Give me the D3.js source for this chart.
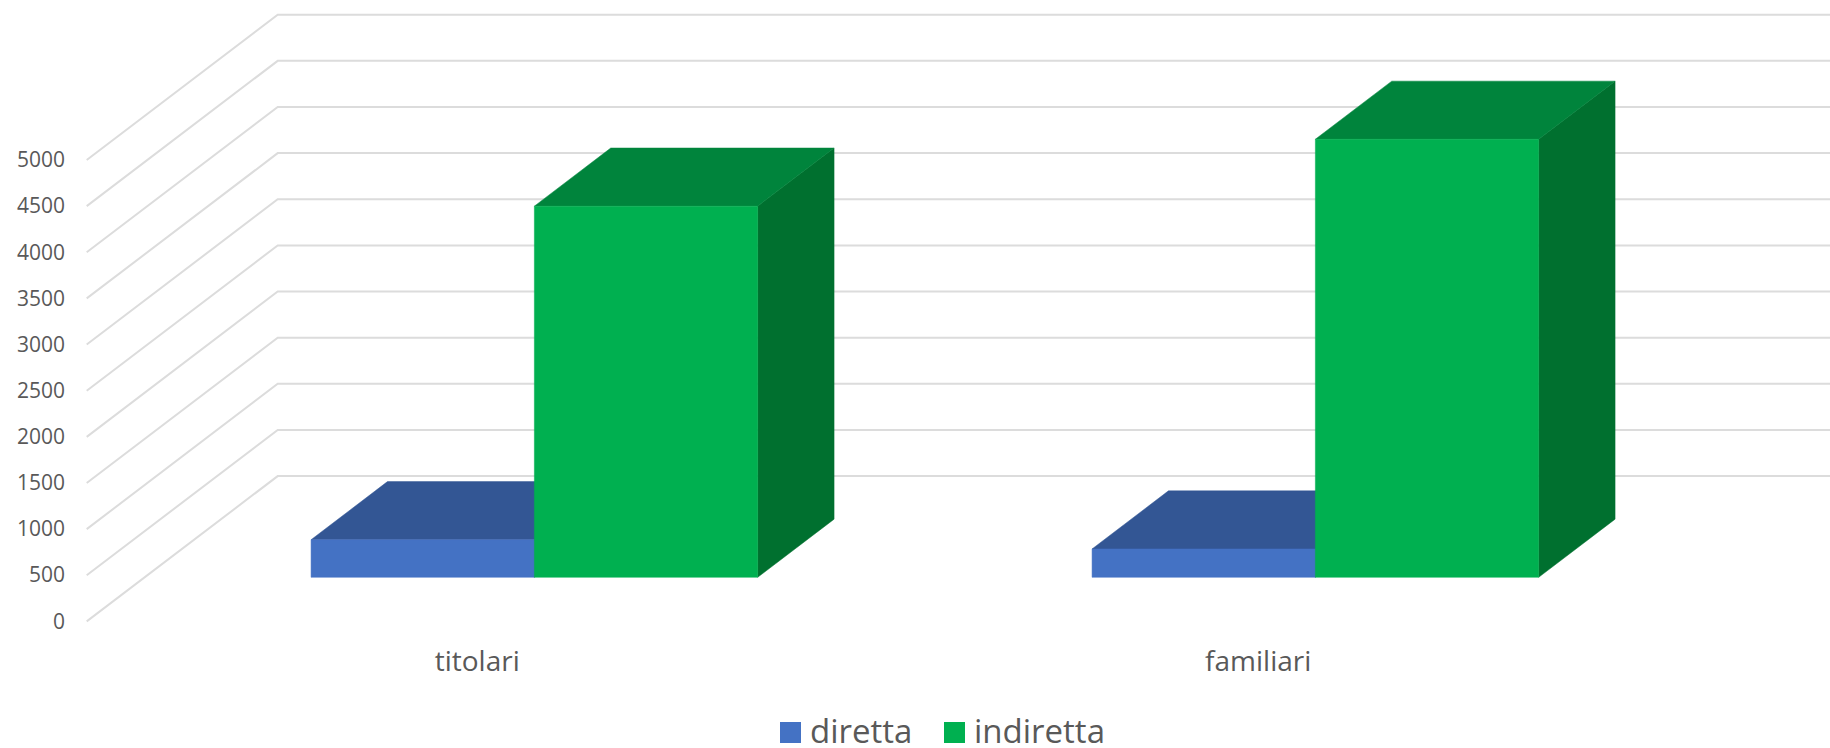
<!DOCTYPE html>
<html>
<head>
<meta charset="utf-8">
<script src="https://cdn.jsdelivr.net/npm/d3@7"></script>
<style>
html,body{margin:0;padding:0;background:#fff;overflow:hidden}
svg{display:block}
text{font-family:"Open Sans",sans-serif;fill:#595959}
</style>
</head>
<body>
<svg id="chart" width="1830" height="748"></svg>
<script>
const categories = ["titolari", "familiari"];
const seriesNames = ["diretta", "indiretta"];
const diretta = [407, 307];
const indiretta = [4022, 4747];
const yTicks = [0, 500, 1000, 1500, 2000, 2500, 3000, 3500, 4000, 4500, 5000];
const faceColors = {
  diretta: {front: "#4472C4", top: "#335694", side: "#2A4A80"},
  indiretta: {front: "#00B050", top: "#00843C", side: "#00702F"}
};

const W = 1830, H = 748;
const svg = d3.select("#chart");

// Front plane of the floor and the oblique depth vector of the 3D box
const y = d3.scaleLinear().domain([0, 5000]).range([621.4, 160]);
const x = d3.scaleBand().domain(categories).range([86.7, 1648.7]);
const depth = {dx: 191, dy: -145.3};
const barDepth = [0.3035, 0.7035];
const sub = d3.scaleBand().domain(seriesNames).range([-224.1, 222.5]);
const p = (px, py, z) => [px + depth.dx * z, py + depth.dy * z];
const line = d3.line();

// Gridlines: wall-side segment, then the back wall
svg.append("g").selectAll("path").data(yTicks).join("path")
  .attr("fill", "none").attr("stroke", "#dcdcdc").attr("stroke-width", 2)
  .attr("d", t => line([[x.range()[0], y(t)], p(x.range()[0], y(t), 1), [W, y(t) + depth.dy]]));

// Value axis labels
const yAxis = svg.append("g").attr("transform", "translate(65,0)")
  .call(d3.axisLeft(y).tickValues(yTicks).tickFormat(d3.format("d")).tickSize(0).tickPadding(0));
yAxis.select(".domain").remove();
yAxis.selectAll("text").style("font-family", '"Open Sans",sans-serif').style("font-size", "21px").attr("fill", "#595959");

// Category labels
const xAxis = svg.append("g").attr("transform", "translate(0,651)")
  .call(d3.axisBottom(x).tickSize(0).tickPadding(0));
xAxis.select(".domain").remove();
xAxis.selectAll("text").style("font-family", '"Open Sans",sans-serif').style("font-size", "28px").attr("fill", "#595959");

// Bars, blue first so the green box covers it
const seriesData = {diretta, indiretta};
seriesNames.forEach(name => {
  categories.forEach((cat, i) => {
    const cx = x(cat) + x.bandwidth() / 2;
    const x0 = cx + sub(name), x1 = x0 + sub.bandwidth();
    const yb = y(0), yt = y(seriesData[name][i]);
    const [z0, z1] = barDepth;
    const col = faceColors[name];
    const g = svg.append("g");
    const poly = (pts, fill) => g.append("path")
      .attr("d", line(pts) + "Z").attr("fill", fill).attr("stroke", fill).attr("stroke-width", 0.5);
    poly([p(x1, yb, z0), p(x1, yb, z1), p(x1, yt, z1), p(x1, yt, z0)], col.side);
    poly([p(x0, yt, z0), p(x1, yt, z0), p(x1, yt, z1), p(x0, yt, z1)], col.top);
    poly([p(x0, yb, z0), p(x1, yb, z0), p(x1, yt, z0), p(x0, yt, z0)], col.front);
  });
});

// Legend
const legendX = d3.scaleOrdinal().domain(seriesNames).range([780, 944]);
const legend = svg.append("g").selectAll("g").data(seriesNames).join("g")
  .attr("transform", d => `translate(${legendX(d)},722)`);
legend.append("rect").attr("width", 21).attr("height", 21).attr("fill", d => faceColors[d].front);
legend.append("text").attr("x", 30).attr("y", 21).style("font-size", "33px").text(d => d);
</script>
</body>
</html>
